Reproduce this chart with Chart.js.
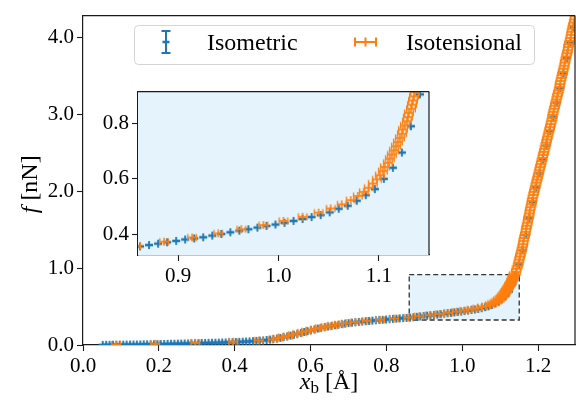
<!DOCTYPE html>
<html>
<head>
<meta charset="utf-8">
<script src="https://cdn.jsdelivr.net/npm/chart.js@4.4.1/dist/chart.umd.min.js"></script>
<style>
  html, body { margin: 0; padding: 0; background: #fff; }
  #wrap { position: relative; width: 576px; height: 403px; overflow: hidden; }
  #mainChart { position: absolute; left: 0; top: 0; }
  #insetChart { position: absolute; left: 88px; top: 76px; }
</style>
</head>
<body>
<div id="wrap">
  <canvas id="mainChart" width="580" height="403"></canvas>
  <canvas id="insetChart" width="346" height="216"></canvas>
</div>
<script>
// --------------------
// Data
// --------------------
const seriesLabels = ['Isometric', 'Isotensional'];

// Isometric: fixed extension steps
const isoX = [
  0.052, 0.061, 0.070, 0.079, 0.088, 0.097, 0.106, 0.115, 0.124, 0.133,
  0.142, 0.151, 0.160, 0.169, 0.178, 0.187, 0.196, 0.205, 0.214, 0.223,
  0.232, 0.241, 0.250, 0.259, 0.268, 0.277, 0.286, 0.295, 0.304, 0.313,
  0.322, 0.331, 0.340, 0.349, 0.358, 0.367, 0.376, 0.385, 0.394, 0.403,
  0.412, 0.421, 0.430, 0.439, 0.448, 0.457, 0.466, 0.475, 0.484, 0.493,
  0.502, 0.511, 0.520, 0.529, 0.538, 0.547, 0.556, 0.565, 0.574, 0.583,
  0.592, 0.601, 0.610, 0.619, 0.628, 0.637, 0.646, 0.655, 0.664, 0.673,
  0.682, 0.691, 0.700, 0.709, 0.718, 0.727, 0.736, 0.745, 0.754, 0.763,
  0.772, 0.781, 0.790, 0.799, 0.808, 0.817, 0.826, 0.835, 0.844, 0.853,
  0.862, 0.871, 0.880, 0.889, 0.898, 0.907, 0.916, 0.925, 0.934, 0.943,
  0.952, 0.961, 0.970, 0.979, 0.988, 0.997, 1.006, 1.015, 1.024, 1.033,
  1.042, 1.051, 1.060, 1.069, 1.078, 1.087, 1.096, 1.105, 1.114, 1.123,
  1.132, 1.141, 1.150, 1.159, 1.168, 1.177, 1.186, 1.195, 1.204, 1.213,
  1.222, 1.231, 1.240, 1.249, 1.258, 1.267, 1.276, 1.285, 1.294, 1.303
];
const isoF = [
  0.002, 0.003, 0.003, 0.004, 0.004, 0.005, 0.005, 0.006, 0.006, 0.007,
  0.007, 0.008, 0.009, 0.009, 0.010, 0.011, 0.012, 0.012, 0.013, 0.015,
  0.016, 0.017, 0.018, 0.019, 0.020, 0.021, 0.022, 0.023, 0.024, 0.026,
  0.027, 0.028, 0.029, 0.030, 0.031, 0.033, 0.034, 0.036, 0.037, 0.039,
  0.041, 0.043, 0.045, 0.047, 0.050, 0.053, 0.057, 0.060, 0.065, 0.070,
  0.077, 0.084, 0.092, 0.102, 0.112, 0.122, 0.133, 0.145, 0.157, 0.169,
  0.180, 0.191, 0.203, 0.214, 0.224, 0.233, 0.241, 0.249, 0.256, 0.263,
  0.271, 0.278, 0.285, 0.290, 0.295, 0.300, 0.305, 0.309, 0.313, 0.317,
  0.321, 0.325, 0.328, 0.332, 0.335, 0.339, 0.342, 0.346, 0.349, 0.352,
  0.356, 0.361, 0.366, 0.371, 0.376, 0.381, 0.385, 0.389, 0.395, 0.401,
  0.407, 0.413, 0.418, 0.424, 0.430, 0.435, 0.441, 0.448, 0.455, 0.462,
  0.469, 0.479, 0.492, 0.503, 0.521, 0.541, 0.563, 0.600, 0.640, 0.695,
  0.790, 0.905, 1.050, 1.230, 1.430, 1.650, 1.860, 2.050, 2.230, 2.410,
  2.590, 2.780, 2.960, 3.150, 3.340, 3.530, 3.730, 3.930, 4.130, 4.330
];

// Isotensional: fixed force steps
const tenX = [
  0.087, 0.190, 0.296, 0.396, 0.463, 0.500,
  0.513, 0.527, 0.540, 0.553, 0.565, 0.577, 0.588, 0.600, 0.612, 0.625,
  0.640, 0.657, 0.675, 0.693, 0.718, 0.748, 0.783, 0.820, 0.858, 0.886,
  0.914, 0.940, 0.963, 0.985, 1.005, 1.024, 1.040, 1.052, 1.063, 1.072,
  1.079, 1.085, 1.090, 1.094, 1.098, 1.101, 1.104, 1.106, 1.109, 1.111,
  1.113, 1.115, 1.117, 1.119, 1.121, 1.123, 1.124, 1.126, 1.128, 1.129,
  1.130, 1.132, 1.133, 1.134, 1.135, 1.136,
  1.141, 1.143, 1.146, 1.148, 1.150, 1.152, 1.154, 1.156, 1.158, 1.160,
  1.161, 1.163, 1.165, 1.167, 1.168, 1.170, 1.172, 1.173, 1.175, 1.177,
  1.178, 1.180, 1.182, 1.183, 1.185, 1.187, 1.189, 1.191, 1.193, 1.195,
  1.197, 1.199, 1.201, 1.203, 1.205, 1.207, 1.209, 1.211, 1.213, 1.215,
  1.217, 1.219, 1.221, 1.223, 1.225, 1.227, 1.229, 1.231, 1.233, 1.235,
  1.237, 1.238, 1.240, 1.242, 1.244, 1.246, 1.248, 1.250, 1.252, 1.254,
  1.256, 1.257, 1.259, 1.261, 1.263, 1.265, 1.267, 1.269, 1.270, 1.272,
  1.274, 1.276, 1.278, 1.279, 1.281, 1.283, 1.285, 1.287, 1.288, 1.290,
  1.292, 1.294, 1.296, 1.297, 1.299
];
const tenF = [
  0.004, 0.015, 0.028, 0.043, 0.058, 0.073,
  0.088, 0.103, 0.118, 0.133, 0.148, 0.163, 0.178, 0.193, 0.208, 0.223,
  0.238, 0.253, 0.268, 0.283, 0.298, 0.313, 0.328, 0.343, 0.358, 0.373,
  0.388, 0.403, 0.418, 0.433, 0.448, 0.463, 0.478, 0.493, 0.508, 0.523,
  0.538, 0.553, 0.568, 0.583, 0.598, 0.613, 0.628, 0.643, 0.658, 0.673,
  0.688, 0.703, 0.718, 0.733, 0.748, 0.763, 0.778, 0.793, 0.808, 0.823,
  0.838, 0.853, 0.868, 0.883, 0.898, 0.913,
  0.95, 0.99, 1.03, 1.07, 1.11, 1.15, 1.19, 1.23, 1.27, 1.31,
  1.35, 1.39, 1.43, 1.47, 1.51, 1.55, 1.59, 1.63, 1.67, 1.71,
  1.75, 1.79, 1.83, 1.87, 1.91, 1.95, 1.99, 2.03, 2.07, 2.11,
  2.15, 2.19, 2.23, 2.27, 2.31, 2.35, 2.39, 2.43, 2.47, 2.51,
  2.55, 2.59, 2.63, 2.67, 2.71, 2.75, 2.79, 2.83, 2.87, 2.91,
  2.95, 2.99, 3.03, 3.07, 3.11, 3.15, 3.19, 3.23, 3.27, 3.31,
  3.35, 3.39, 3.43, 3.47, 3.51, 3.55, 3.59, 3.63, 3.67, 3.71,
  3.75, 3.79, 3.83, 3.87, 3.91, 3.95, 3.99, 4.03, 4.07, 4.11,
  4.15, 4.19, 4.23, 4.27, 4.31
];

// Axis limits and ticks
const mainXRange = [0, 1.297];
const mainYRange = [0, 4.28];
const mainXTicks = [0.0, 0.2, 0.4, 0.6, 0.8, 1.0, 1.2];
const mainYTicks = [0.0, 1.0, 2.0, 3.0, 4.0];
const zoomXRange = [0.86, 1.15];
const zoomYRange = [0.325, 0.915];
const insetXTicks = [0.9, 1.0, 1.1];
const insetYTicks = [0.4, 0.6, 0.8];

// --------------------
// Styling helpers
// --------------------
const BLUE = '#1f77b4';
const ORANGE = '#ff7f0e';
const FRAME = '#1a1a1a';
const ZOOM_BG = 'rgb(229,243,253)';
const SERIF = "'Liberation Serif', serif";
const tickFont = { family: SERIF, size: 21 };

Chart.defaults.font.family = SERIF;
Chart.defaults.font.size = 21;
Chart.defaults.color = '#000';

function strokeLine(g, x1, y1, x2, y2) {
    g.beginPath();
    g.moveTo(x1, y1);
    g.lineTo(x2, y2);
    g.stroke();
}

// errorbar-like markers used as point styles
function makeMarker(kind, color) {
    const c = document.createElement('canvas');
    c.width = 12;
    c.height = 10;
    const g = c.getContext('2d');
    g.strokeStyle = color;
    if (kind === 'iso') {
        g.lineWidth = 2.6;
        strokeLine(g, 2, 5, 10, 5);
        g.lineWidth = 1.8;
        strokeLine(g, 6, 1, 6, 9);
    } else {
        g.lineWidth = 1.7;
        strokeLine(g, 1, 5, 11, 5);
        g.lineWidth = 1.4;
        strokeLine(g, 1.7, 1.5, 1.7, 8.5);
        strokeLine(g, 10.3, 1.5, 10.3, 8.5);
        g.lineWidth = 1.6;
        strokeLine(g, 6, 1, 6, 9);
    }
    return c;
}

const isoMarker = makeMarker('iso', BLUE);
const tenMarker = makeMarker('ten', ORANGE);

function pointsOf(xs, ys) {
    return xs.map((x, i) => ({ x, y: ys[i] }));
}

function buildDatasets() {
    return [
        { label: seriesLabels[1], data: pointsOf(tenX, tenF), pointStyle: tenMarker, order: 0, clip: 0 },
        { label: seriesLabels[0], data: pointsOf(isoX, isoF), pointStyle: isoMarker, order: 1, clip: 0 }
    ];
}

function axisOptions(range, tickVals, fitFn) {
    return {
        type: 'linear',
        min: range[0],
        max: range[1],
        afterFit: fitFn,
        afterBuildTicks: s => { s.ticks = tickVals.map(v => ({ value: v })); },
        grid: { drawOnChartArea: false, drawTicks: true, tickLength: 6, tickColor: FRAME, tickWidth: 1.1 },
        border: { display: true, color: FRAME, width: 1.2 },
        ticks: {
            font: tickFont,
            color: '#000',
            padding: 3,
            autoSkip: false,
            maxRotation: 0,
            callback: v => Number(v).toFixed(1)
        }
    };
}

// --------------------
// Plugins
// --------------------
const frameBox = {
    id: 'frameBox',
    beforeDatasetsDraw(chart, args, opts) {
        const { ctx, chartArea: a } = chart;
        if (opts.fill) {
            ctx.save();
            ctx.fillStyle = opts.fill;
            ctx.fillRect(a.left, a.top, a.right - a.left, a.bottom - a.top);
            ctx.restore();
        }
    },
    afterDatasetsDraw(chart) {
        const { ctx, chartArea: a } = chart;
        ctx.save();
        ctx.strokeStyle = FRAME;
        ctx.lineWidth = 1.2;
        strokeLine(ctx, a.left, a.top, a.right, a.top);
        strokeLine(ctx, a.right, a.top, a.right, a.bottom);
        ctx.restore();
    }
};

const zoomRegion = {
    id: 'zoomRegion',
    beforeDatasetsDraw(chart) {
        const { ctx, scales: { x, y } } = chart;
        const x1 = x.getPixelForValue(zoomXRange[0]);
        const x2 = x.getPixelForValue(zoomXRange[1]);
        const y1 = y.getPixelForValue(zoomYRange[1]);
        const y2 = y.getPixelForValue(zoomYRange[0]);
        ctx.save();
        ctx.fillStyle = ZOOM_BG;
        ctx.fillRect(x1, y1, x2 - x1, y2 - y1);
        ctx.strokeStyle = '#333';
        ctx.lineWidth = 1.3;
        ctx.setLineDash([5, 3]);
        ctx.strokeRect(x1, y1, x2 - x1, y2 - y1);
        ctx.restore();
    }
};

const boxLegend = {
    id: 'boxLegend',
    afterDraw(chart) {
        const { ctx } = chart;
        ctx.save();
        // frame
        const bx = 134.5, by = 25.5, bw = 400, bh = 39, r = 4;
        ctx.beginPath();
        ctx.roundRect(bx, by, bw, bh, r);
        ctx.fillStyle = 'rgba(255,255,255,0.8)';
        ctx.fill();
        ctx.strokeStyle = '#d4d4d4';
        ctx.lineWidth = 1;
        ctx.stroke();

        const cy = 42;
        // Isometric symbol: vertical errorbar
        ctx.strokeStyle = BLUE;
        ctx.lineWidth = 2;
        strokeLine(ctx, 166, cy - 11, 166, cy + 11);
        strokeLine(ctx, 161.5, cy - 11, 170.5, cy - 11);
        strokeLine(ctx, 161.5, cy + 11, 170.5, cy + 11);
        ctx.lineWidth = 2.5;
        strokeLine(ctx, 162.5, cy, 169.5, cy);
        // Isotensional symbol: horizontal errorbar
        ctx.strokeStyle = ORANGE;
        ctx.lineWidth = 2;
        strokeLine(ctx, 354, cy, 377, cy);
        strokeLine(ctx, 355, cy - 4.5, 355, cy + 4.5);
        strokeLine(ctx, 376, cy - 4.5, 376, cy + 4.5);
        strokeLine(ctx, 365.5, cy - 4.5, 365.5, cy + 4.5);

        ctx.fillStyle = '#000';
        ctx.font = '24px ' + SERIF;
        ctx.textBaseline = 'alphabetic';
        ctx.fillText(seriesLabels[0], 207, 50);
        ctx.fillText(seriesLabels[1], 406, 50);
        ctx.restore();
    }
};

const axisTitles = {
    id: 'axisTitles',
    afterDraw(chart) {
        const { ctx, chartArea: a } = chart;
        const big = '24px ' + SERIF;
        const ital = 'italic 24px ' + SERIF;
        const small = '17px ' + SERIF;
        ctx.save();
        ctx.fillStyle = '#000';
        ctx.textBaseline = 'alphabetic';

        // x label: x_b [Å]
        ctx.font = ital; const wx = ctx.measureText('x').width;
        ctx.font = small; const wb = ctx.measureText('b').width;
        ctx.font = big; const wr = ctx.measureText(' [Å]').width;
        let px = (a.left + a.right) / 2 - (wx + wb + wr) / 2;
        const base = 389;
        ctx.font = ital; ctx.fillText('x', px, base); px += wx;
        ctx.font = small; ctx.fillText('b', px, base + 4); px += wb;
        ctx.font = big; ctx.fillText(' [Å]', px, base);

        // y label: f [nN]
        ctx.translate(37, (a.top + a.bottom) / 2 + 4);
        ctx.rotate(-Math.PI / 2);
        ctx.font = ital; const wf = ctx.measureText('f').width;
        ctx.font = big; const wu = ctx.measureText(' [nN]').width;
        let py = -(wf + wu) / 2;
        ctx.font = ital; ctx.fillText('f', py, 0); py += wf;
        ctx.font = big; ctx.fillText(' [nN]', py, 0);
        ctx.restore();
    }
};

// --------------------
// Charts
// --------------------
const commonOptions = {
    responsive: false,
    animation: false,
    events: [],
    showLine: false,
    plugins: { legend: { display: false }, tooltip: { enabled: false } }
};

new Chart(document.getElementById('mainChart'), {
    type: 'scatter',
    data: { datasets: buildDatasets() },
    options: {
        ...commonOptions,
        layout: { padding: { top: 13, left: 0, right: 0, bottom: 0 } },
        scales: {
            x: axisOptions(mainXRange, mainXTicks, s => { s.height = 58; }),
            y: axisOptions(mainYRange, mainYTicks, s => { s.width = 83; })
        },
        plugins: { ...commonOptions.plugins, frameBox: {} }
    },
    plugins: [zoomRegion, frameBox, axisTitles, boxLegend]
});

new Chart(document.getElementById('insetChart'), {
    type: 'scatter',
    data: { datasets: buildDatasets() },
    options: {
        ...commonOptions,
        layout: { padding: { top: 6, left: 0, right: 4, bottom: 0 } },
        scales: {
            x: axisOptions(zoomXRange, insetXTicks, s => { s.height = 37; }),
            y: axisOptions(zoomYRange, insetYTicks, s => { s.width = 50; })
        },
        plugins: { ...commonOptions.plugins, frameBox: { fill: ZOOM_BG } }
    },
    plugins: [frameBox]
});
</script>
</body>
</html>
